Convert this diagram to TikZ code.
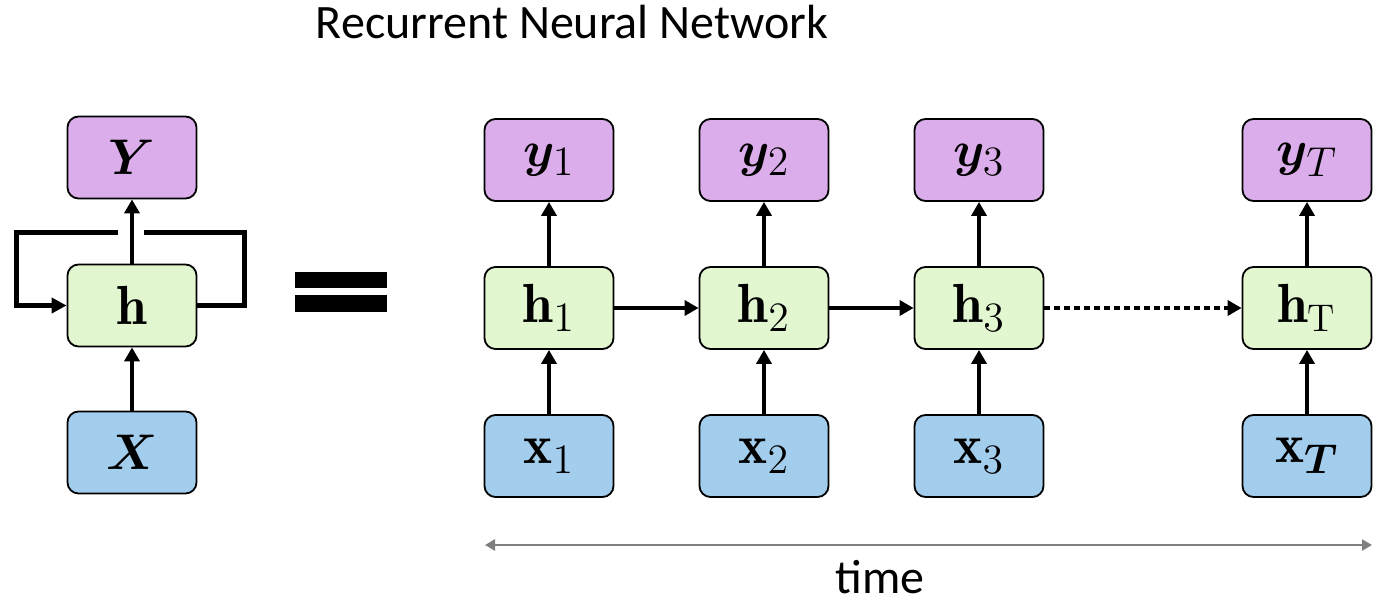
\documentclass[tikz,border=0pt]{standalone}
\usepackage{amsmath,bm}
\usepackage{graphicx}
\usepackage{fontspec}
\newfontfamily\carlito{Carlito}
\usetikzlibrary{arrows.meta}
\definecolor{ypurple}{RGB}{220,173,235}
\definecolor{hgreen}{RGB}{226,246,208}
\definecolor{xblue}{RGB}{163,205,236}
\definecolor{timegray}{RGB}{127,127,127}
\newcommand{\mylbl}[1]{\scalebox{2.9}{$#1$}}
\tikzset{
  box/.style={draw=black, line width=1.8pt, rounded corners=11pt, minimum width=129pt, minimum height=82pt, inner sep=0pt,
    font=\fontsize{19}{22}\selectfont},
  ybox/.style={box, fill=ypurple},
  hbox/.style={box, fill=hgreen},
  xbox/.style={box, fill=xblue},
  conn/.style={line width=4.8pt, -{Triangle[width=15pt,length=14pt]}},
  loopline/.style={line width=5pt},
}
\begin{document}
\begin{tikzpicture}[x=1pt,y=-1pt]
\useasboundingbox (0,0) rectangle (1375,605);
% title
\node[font=\carlito\fontsize{48}{50}\selectfont, inner sep=0pt, anchor=base] (title) at (572,38) {Recurrent Neural Network};
% left folded network
\node[ybox] (Y) at (132,157.5) {\mylbl{\bm{Y}}};
\node[hbox] (h) at (132,305.5) {\mylbl{\mathbf{h}}};
\node[xbox] (X) at (132,452.5) {\mylbl{\bm{X}}};
\draw[conn] (X) -- (h);
\draw[conn] (h) -- (Y);
\coordinate (lt) at (118,232);
\coordinate (rt) at (144,232);
\draw[loopline, -{Triangle[width=15pt,length=15pt]}] (lt) -| (16,305.5) -- (h.west);
\draw[loopline] (h.east) -| (244,232) -- (rt);
% equal sign
\fill (295,272) rectangle (387,288);
\fill (295,295) rectangle (387,312);
% unrolled
\foreach \i/\cx/\s in {1/549/1, 2/764/2, 3/979/3}{
  \node[ybox] (y\i) at (\cx,160) {\mylbl{\bm{y}_{\s}}};
  \node[hbox] (h\i) at (\cx,308) {\mylbl{\mathbf{h}_{\s}}};
  \node[xbox] (x\i) at (\cx,456) {\mylbl{\mathbf{x}_{\s}}};
  \draw[conn] (x\i) -- (h\i);
  \draw[conn] (h\i) -- (y\i);
}
\node[ybox] (yT) at (1307,160) {\mylbl{\bm{y}_{T}}};
\node[hbox] (hT) at (1307,308) {\mylbl{\mathbf{h}_{\mathrm{T}}}};
\node[xbox] (xT) at (1307,456) {\mylbl{\mathbf{x}_{\bm{T}}}};
\draw[conn] (xT) -- (hT);
\draw[conn] (hT) -- (yT);
\draw[conn] (h1) -- (h2);
\draw[conn] (h2) -- (h3);
\draw[conn, dash pattern=on 6pt off 4pt] (h3) -- (hT);
% time axis
\coordinate (ta) at (485,545);
\coordinate (tb) at (1372,545);
\draw[timegray, line width=2.5pt, {Triangle[width=11pt,length=10pt]}-{Triangle[width=11pt,length=10pt]}] (ta) -- (tb);
\node[font=\carlito\fontsize{48}{50}\selectfont, inner sep=0pt, anchor=base] (time) at (880,593) {time};
\end{tikzpicture}
\end{document}
